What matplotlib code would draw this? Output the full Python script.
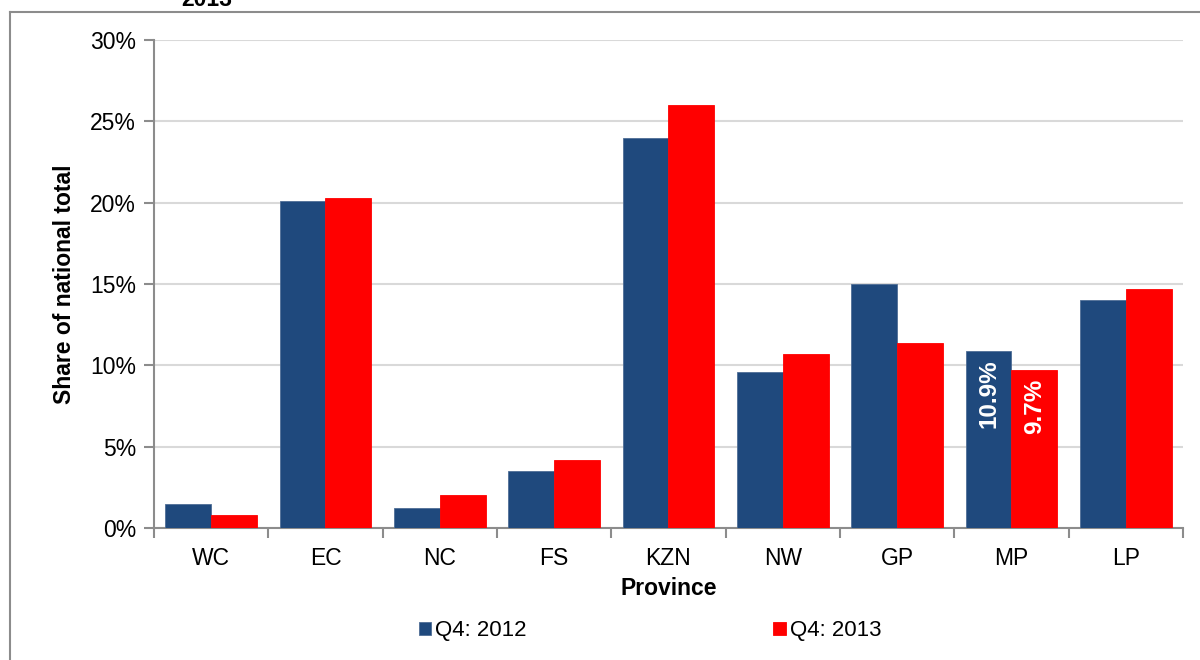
import matplotlib
matplotlib.use("Agg")
import matplotlib.pyplot as plt
from matplotlib.lines import Line2D
from matplotlib.ticker import FuncFormatter
import numpy as np

plt.rcParams['font.family'] = ['Liberation Sans', 'DejaVu Sans']

PROVINCES = ["WC", "EC", "NC", "FS", "KZN", "NW", "GP", "MP", "LP"]
Q4_2012 = [1.5, 20.1, 1.2, 3.5, 24.0, 9.6, 15.0, 10.9, 14.0]
Q4_2013 = [0.8, 20.3, 2.0, 4.2, 26.0, 10.7, 11.4, 9.7, 14.7]
SERIES_LABELS = ["Q4: 2012", "Q4: 2013"]
LABELLED = "MP"

BLUE = "#1F497D"
RED = "#FF0000"
GREY = "#8C8C8C"
FS = 16.5

fig = plt.figure(figsize=(12, 6.6), dpi=100)
ax = fig.add_axes([0.1283, 0.2, 0.8575, 0.7394])

x = np.arange(len(PROVINCES))
w = 0.4
b1 = ax.bar(x - w / 2, Q4_2012, w, color=BLUE, edgecolor="#4F6E96", linewidth=0.6, zorder=3)
b2 = ax.bar(x + w / 2, Q4_2013, w, color=RED, edgecolor=RED, linewidth=0.6, zorder=3)

# value labels inside the MP bars
i = PROVINCES.index(LABELLED)
for xpos, v in [(x[i] - w / 2, Q4_2012[i]), (x[i] + w / 2, Q4_2013[i])]:
    ax.text(xpos, v - 0.55, f"{v:.1f}%", rotation=90, ha="center", va="top",
            color="white", fontweight="bold", fontsize=17.5, zorder=4)

ax.set_xlim(-0.5, len(PROVINCES) - 0.5)
ax.set_ylim(0, 30)
ax.set_yticks(np.arange(0, 31, 5))
ax.yaxis.set_major_formatter(FuncFormatter(lambda v, p: f"{v:.0f}%"))
ax.grid(axis="y", color="#D9D9D9", linewidth=1.5, zorder=0)

ax.set_xticks(x)
ax.set_xticklabels(PROVINCES)
ax.set_xticks(np.arange(-0.5, len(PROVINCES)), minor=True)
ax.tick_params(axis="x", which="major", length=0, pad=14, labelsize=FS)
ax.tick_params(axis="x", which="minor", length=7, width=1.5, color=GREY, direction="out")
ax.tick_params(axis="y", length=7, width=1.5, color=GREY, labelsize=FS, pad=6)

for s in ["top", "right"]:
    ax.spines[s].set_visible(False)
for s in ["left", "bottom"]:
    ax.spines[s].set_color(GREY)
    ax.spines[s].set_linewidth(1.5)

ax.set_xlabel("Province", fontsize=FS, fontweight="bold", labelpad=5)
ax.set_ylabel("Share of national total", fontsize=FS, fontweight="bold", labelpad=10)

fig.legend([b1, b2], SERIES_LABELS, ncol=2, loc="center", bbox_to_anchor=(0.5417, 0.044),
           frameon=False, fontsize=16, handlelength=0.55, handleheight=0.55,
           handletextpad=0.2, columnspacing=11.1)

# cut-off title and outer frame of the original chart
fig.text(0.1725, 1 - 6 / 660, "2013", ha="center", va="baseline",
         fontsize=FS, fontweight="bold")
fig.add_artist(Line2D([10 / 1200, 10 / 1200], [0, 1 - 12 / 660], transform=fig.transFigure,
                      color=GREY, linewidth=1.5))
fig.add_artist(Line2D([10 / 1200, 1], [1 - 12 / 660, 1 - 12 / 660], transform=fig.transFigure,
                      color=GREY, linewidth=1.5))

fig.savefig("out.png", dpi=100)
